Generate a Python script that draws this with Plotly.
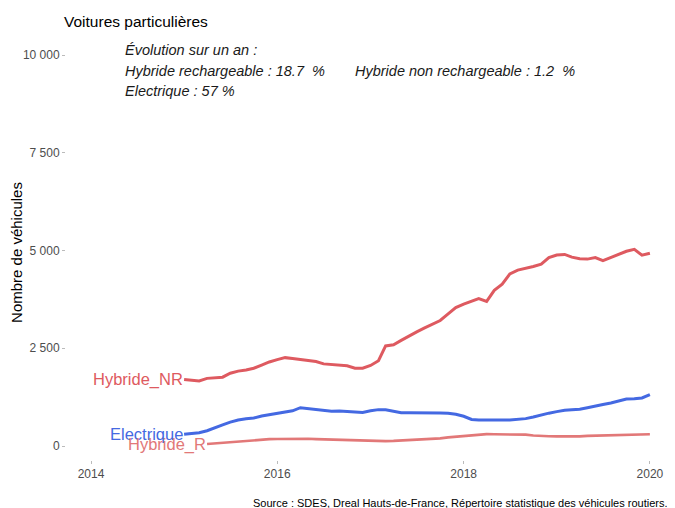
import pandas as pd
import plotly.graph_objects as go

# ---- data (monthly) ----
dates_main = pd.date_range("2015-01-01", periods=61, freq="MS")
dates_r = pd.date_range("2015-04-01", periods=58, freq="MS")

hybride_nr = [1700, 1680, 1665, 1730, 1740, 1760, 1860, 1915, 1945, 1990,
              2070, 2150, 2210, 2260, 2240, 2210, 2185, 2160, 2100, 2085,
              2080, 2050, 1990, 1990, 2060, 2180, 2560, 2590, 2700, 2820,
              2920, 3020, 3110, 3210, 3380, 3540, 3630, 3700, 3770, 3700,
              3980, 4140, 4400, 4500, 4540, 4590, 4650, 4820, 4885, 4900,
              4830, 4790, 4780, 4820, 4740, 4820, 4900, 4980, 5030, 4880,
              4930]

electrique = [300, 315, 340, 390, 470, 540, 610, 665, 695, 715,
              765, 800, 830, 860, 900, 980, 960, 945, 920, 890,
              895, 885, 865, 860, 900, 930, 925, 880, 850, 850,
              850, 855, 850, 845, 835, 810, 760, 680, 665, 670,
              675, 665, 665, 680, 700, 740, 800, 840, 880, 915,
              925, 940, 980, 1030, 1060, 1100, 1150, 1200, 1210, 1230,
              1315]

hybride_r = [50, 65, 85, 105, 125, 140, 155, 170, 175, 180,
             185, 190, 195, 185, 175, 170, 160, 155, 145, 135,
             125, 120, 120, 125, 130, 140, 155, 170, 170, 175,
             195, 220, 240, 255, 275, 295, 305, 300, 300, 305,
             305, 290, 270, 255, 250, 245, 240, 240, 245, 260,
             265, 270, 280, 280, 280, 285, 290, 300]

y_tickvals = [0, 2500, 5000, 7500, 10000]
y_ticktext = ["0", "2 500", "5 000", "7 500", "10 000"]
x_tickvals = ["2014-01-01", "2016-01-01", "2018-01-01", "2020-01-01"]
x_ticktext = ["2014", "2016", "2018", "2020"]

title_text = "Voitures particulières"
evo_lines = ["Évolution sur un an :",
             "Hybride rechargeable : 18.7 \u00a0%",
             "Hybride non rechargeable : 1.2 \u00a0%",
             "Electrique : 57 %"]
source_text = "Source : SDES, Dreal Hauts-de-France, Répertoire statistique des véhicules routiers."

col_nr = "#DE5A60"
col_r = "#E27878"
col_el = "#4469E2"
FONT = "Liberation Sans, Arial, sans-serif"

fig = go.Figure()
fig.add_trace(go.Scatter(x=dates_r, y=hybride_r, mode="lines",
                         line=dict(color=col_r, width=2.6), name="Hybride_R"))
fig.add_trace(go.Scatter(x=dates_main, y=electrique, mode="lines",
                         line=dict(color=col_el, width=3), name="Electrique"))
fig.add_trace(go.Scatter(x=dates_main, y=hybride_nr, mode="lines",
                         line=dict(color=col_nr, width=3), name="Hybride_NR"))

annotations = []
# direct labels at first points
for name, xs, ys, col in [("Hybride_NR", dates_main, hybride_nr, col_nr),
                          ("Electrique", dates_main, electrique, col_el),
                          ("Hybride_R", dates_r, hybride_r, col_r)]:
    annotations.append(dict(x=xs[0], y=ys[0], xref="x", yref="y", text=name,
                            showarrow=False, xanchor="right", yanchor="middle",
                            xshift=1, font=dict(family=FONT, size=16.5, color=col)))

evo_font = dict(family=FONT, size=14.5, color="#1a1a1a")
evo_pos = [(0.095, 0.988), (0.095, 0.937), (0.4767, 0.937), (0.095, 0.889)]
for txt, (px, py) in zip(evo_lines, evo_pos):
    annotations.append(dict(x=px, y=py, xref="paper", yref="paper", text="<i>" + txt + "</i>",
                            showarrow=False, xanchor="left", yanchor="middle", font=evo_font))
# source caption
annotations.append(dict(x=1, y=0, xref="paper", yref="paper", text=source_text,
                        showarrow=False, xanchor="right", yanchor="middle",
                        xshift=2, yshift=-43,
                        font=dict(family=FONT, size=11, color="#000000")))

W, H = 667, 500
fig.update_layout(
    width=W, height=H,
    margin=dict(l=58, r=7, t=37, b=48, autoexpand=False),
    paper_bgcolor="white", plot_bgcolor="white",
    showlegend=False,
    font=dict(family=FONT),
    title=dict(text=title_text, xref="container", yref="container",
               x=56 / W, y=1 - 14 / H, xanchor="left", yanchor="middle",
               font=dict(family=FONT, size=15.5, color="#000000")),
    annotations=annotations,
)
fig.update_xaxes(range=["2013-09-25", "2020-03-12"], tickvals=x_tickvals, ticktext=x_ticktext,
                 showgrid=False, zeroline=False, showline=False, automargin=False,
                 ticks="outside", ticklen=3, tickcolor="#bbbbbb",
                 tickfont=dict(family=FONT, size=12, color="#4D4D4D"))
fig.update_yaxes(range=[-358, 10256], tickvals=y_tickvals, ticktext=y_ticktext,
                 showgrid=False, zeroline=False, showline=False, automargin=False,
                 ticks="outside", ticklen=3, tickcolor="#bbbbbb",
                 tickfont=dict(family=FONT, size=12, color="#4D4D4D"),
                 title=dict(text="Nombre de véhicules", standoff=8,
                            font=dict(family=FONT, size=15, color="#000000")))

fig.write_html("out.html")
